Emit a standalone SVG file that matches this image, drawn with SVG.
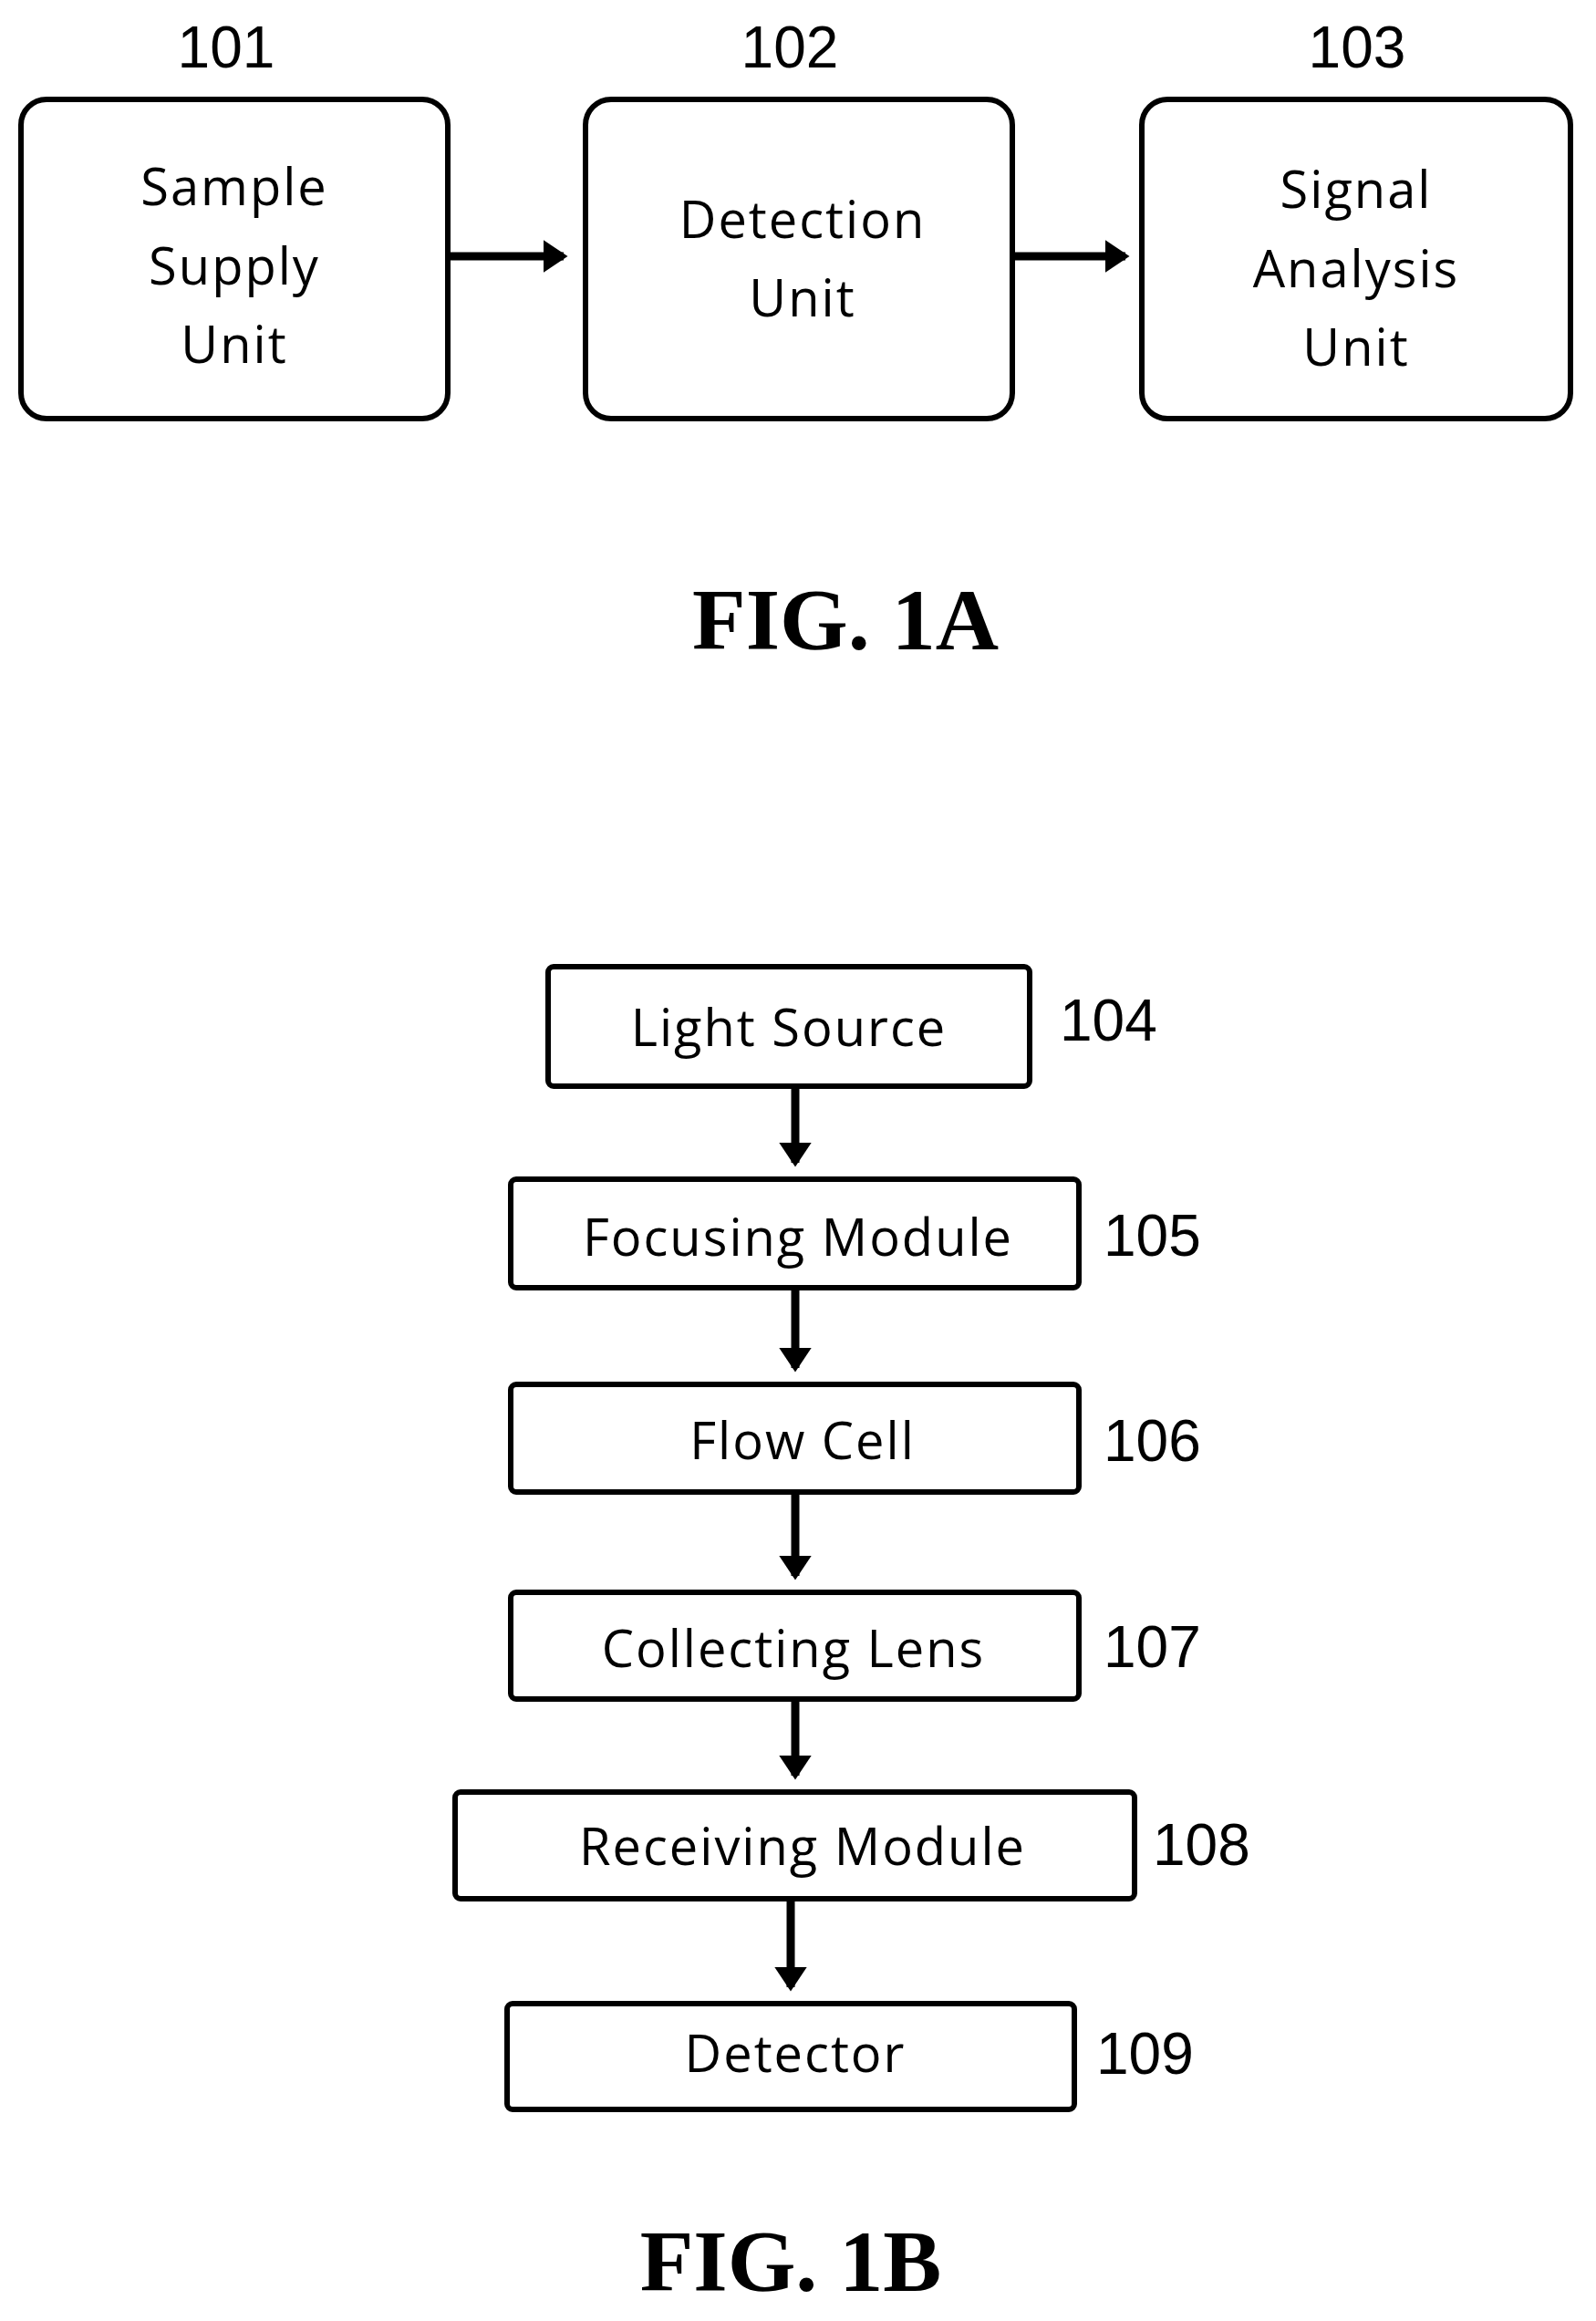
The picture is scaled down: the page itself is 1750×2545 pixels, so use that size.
<svg xmlns="http://www.w3.org/2000/svg" width="1750" height="2545" viewBox="0 0 1750 2545">
<style>
.b{fill:#fff;stroke:#000;stroke-width:6}
.t{font-family:"Open Sans",sans-serif;font-size:56px;text-anchor:middle;dominant-baseline:central;fill:#000;letter-spacing:2px}
.n{font-family:"Liberation Sans",sans-serif;font-size:64px;fill:#000;dominant-baseline:central}
.f{font-family:"Liberation Serif",serif;font-weight:bold;font-size:96px;text-anchor:middle;fill:#000}
.c{stroke:#000;stroke-width:9;fill:none}
</style>
<defs><marker id="a" markerWidth="4" markerHeight="4" refX="2.5" refY="2" orient="auto" markerUnits="strokeWidth"><path d="M0,0 L3,2 L0,4 Z" fill="#000"/></marker></defs>
<rect width="1750" height="2545" fill="#fff"/>
<g id="n101"><rect class="b" x="23" y="109" width="468" height="350" rx="28"/><text class="t" x="257" y="203">Sample</text><text class="t" x="257" y="290">Supply</text><text class="t" x="257" y="376">Unit</text><text class="n" x="248" y="52" text-anchor="middle">101</text></g>
<g id="n102"><rect class="b" x="642" y="109" width="468" height="350" rx="28"/><text class="t" x="880" y="239">Detection</text><text class="t" x="880" y="325">Unit</text><text class="n" x="866" y="52" text-anchor="middle">102</text></g>
<g id="n103"><rect class="b" x="1252" y="109" width="470" height="350" rx="28"/><text class="t" x="1487" y="206">Signal</text><text class="t" x="1487" y="293">Analysis</text><text class="t" x="1487" y="379">Unit</text><text class="n" x="1488" y="52" text-anchor="middle">103</text></g>
<text class="f" x="927" y="712">FIG. 1A</text>
<g id="n104"><rect class="b" x="601" y="1060" width="528" height="131" rx="6"/><text class="t" x="865" y="1125">Light Source</text><text class="n" x="1162" y="1119">104</text></g>
<g id="n105"><rect class="b" x="560" y="1293" width="623" height="119" rx="6"/><text class="t" x="875" y="1355">Focusing Module</text><text class="n" x="1210" y="1355">105</text></g>
<g id="n106"><rect class="b" x="560" y="1518" width="623" height="118" rx="6"/><text class="t" x="880" y="1578">Flow Cell</text><text class="n" x="1210" y="1580">106</text></g>
<g id="n107"><rect class="b" x="560" y="1746" width="623" height="117" rx="6"/><text class="t" x="870" y="1806">Collecting Lens</text><text class="n" x="1210" y="1806">107</text></g>
<g id="n108"><rect class="b" x="499" y="1965" width="745" height="117" rx="6"/><text class="t" x="880" y="2023">Receiving Module</text><text class="n" x="1264" y="2023">108</text></g>
<g id="n109"><rect class="b" x="556" y="2197" width="622" height="116" rx="6"/><text class="t" x="872" y="2250">Detector</text><text class="n" x="1202" y="2252">109</text></g>
<text class="f" x="867" y="2512">FIG. 1B</text>
<g id="connectors">
<line class="c" x1="491" y1="281" x2="618" y2="281" marker-end="url(#a)"/>
<line class="c" x1="1110" y1="281" x2="1234" y2="281" marker-end="url(#a)"/>
<line class="c" x1="872" y1="1191" x2="872" y2="1275" marker-end="url(#a)"/>
<line class="c" x1="872" y1="1412" x2="872" y2="1500" marker-end="url(#a)"/>
<line class="c" x1="872" y1="1636" x2="872" y2="1728" marker-end="url(#a)"/>
<line class="c" x1="872" y1="1863" x2="872" y2="1947" marker-end="url(#a)"/>
<line class="c" x1="867" y1="2082" x2="867" y2="2179" marker-end="url(#a)"/>
</g>
</svg>
